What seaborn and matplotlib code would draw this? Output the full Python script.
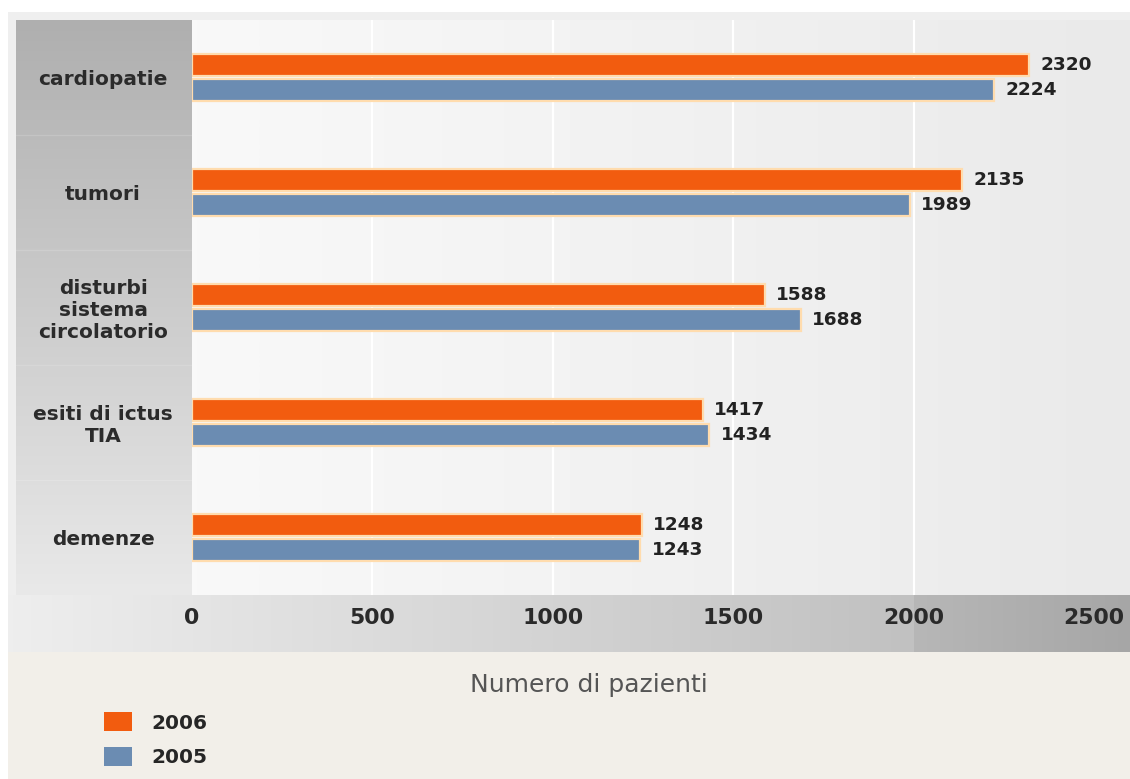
import numpy as np
import pandas as pd
import matplotlib
matplotlib.use("Agg")
import matplotlib.pyplot as plt
from matplotlib.colors import LinearSegmentedColormap
from matplotlib.patches import Patch
import seaborn as sns

# --- data -------------------------------------------------------------
categorie = ["cardiopatie", "tumori", "disturbi\nsistema\ncircolatorio",
             "esiti di ictus\nTIA", "demenze"]
pazienti_2006 = [2320, 2135, 1588, 1417, 1248]
pazienti_2005 = [2224, 1989, 1688, 1434, 1243]
anni = ["2006", "2005"]
tick_valori = [0, 500, 1000, 1500, 2000, 2500]
colori = {"2006": "#f25c0f", "2005": "#6b8cb2"}

df = pd.DataFrame({
    "categoria": categorie * 2,
    "pazienti": pazienti_2006 + pazienti_2005,
    "anno": [anni[0]] * len(categorie) + [anni[1]] * len(categorie),
})

# --- figure geometry (pixels) -----------------------------------------
W, H = 1130, 779
PL, PR, PT, PB = 192, 1130, 20, 595      # plot area
XMAX = 2600

sns.set_theme(style="white")
plt.rcParams["font.family"] = ["DejaVu Sans"]

fig = plt.figure(figsize=(W / 100, H / 100), dpi=100)
fig.patch.set_facecolor("#f2efe9")

# background layer in pixel coordinates
bg = fig.add_axes([0, 0, 1, 1], zorder=0)
bg.axis("off")


def fill(x0, x1, y0, y1, color):
    bg.add_patch(plt.Rectangle((x0, y0), x1 - x0, y1 - y0, color=color,
                               lw=0, zorder=1))


def grad(x0, x1, y0, y1, c0, c1, vertical=False):
    cmap = LinearSegmentedColormap.from_list("g", [c0, c1])
    g = np.linspace(0, 1, 256)
    arr = g[:, None] if vertical else g[None, :]
    bg.imshow(arr, cmap=cmap, extent=(x0, x1, y1, y0), aspect="auto",
              interpolation="bicubic", vmin=0, vmax=1, zorder=2)


fill(0, W, 0, 12, "white")
fill(0, 8, 0, H, "white")
fill(8, W, 12, PB, "#efefef")
grad(16, PL, PT, PB, "#afafaf", "#e9e9e9", vertical=True)
grad(PL, PR, PT, PB, "#f9f9f9", "#eaeaea")

x2000 = PL + 2000 / XMAX * (PR - PL)
grad(8, x2000, PB, 652, "#eeeeee", "#c1c1c1")
grad(x2000, W, PB, 652, "#b7b7b7", "#a6a6a6")

# faint separators between category bands in the label column
band = (PB - PT) / len(categorie)
for i in range(1, len(categorie)):
    y = PT + i * band
    bg.plot([16, PL], [y, y], color="white", lw=1, alpha=0.15, zorder=3)

bg.set_xlim(0, W)
bg.set_ylim(H, 0)

# --- bars -------------------------------------------------------------
ax = fig.add_axes([PL / W, 1 - PB / H, (PR - PL) / W, (PB - PT) / H], zorder=1)
ax.patch.set_alpha(0)

sns.barplot(data=df, x="pazienti", y="categoria", hue="anno",
            hue_order=anni, palette=colori, orient="h", saturation=1,
            width=0.42, gap=0.09, edgecolor="#ffdcae", linewidth=1.6,
            legend=False, ax=ax)

for v in tick_valori[1:-1]:
    ax.axvline(v, color="white", lw=1.6, zorder=0)

for cont in ax.containers:
    ax.bar_label(cont, padding=8, fontsize=13.3, fontweight="bold",
                 color="#222222")

ax.set_xlim(0, XMAX)
ax.set_ylim(len(categorie) - 0.5, -0.5)
for s in ax.spines.values():
    s.set_visible(False)

ax.set_xticks(tick_valori)
ax.set_xticklabels([str(v) for v in tick_valori], fontsize=15.8,
                   fontweight="bold", color="#2a2a2a")
ax.tick_params(axis="x", length=0, pad=9)

ax.tick_params(axis="y", length=0, pad=64)
for lab in ax.get_yticklabels():
    lab.set_ha("center")
    lab.set_multialignment("center")
    lab.set_fontweight("bold")
    lab.set_fontsize(14.5)
    lab.set_color("#2b2b2b")
    lab.set_linespacing(1.2)
ax.set_ylabel("")

ax.set_xlabel("Numero di pazienti", fontsize=18, color="#555555")
ax.xaxis.label.set_va("center")
ax.xaxis.set_label_coords((589 - PL) / (PR - PL), (PB - 685) / (PB - PT))

# --- legend -----------------------------------------------------------
handles = [Patch(facecolor=colori[a], edgecolor="none", label=a) for a in anni]
fig.legend(handles=handles, loc="upper left",
           bbox_to_anchor=(104 / W, 1 - 712 / H), frameon=False,
           prop={"weight": "bold", "size": 14.5}, handlelength=1.4,
           handleheight=1.1, handletextpad=0.95, labelspacing=0.7,
           borderpad=0, borderaxespad=0)

fig.savefig("out.png", dpi=100, facecolor=fig.get_facecolor())
